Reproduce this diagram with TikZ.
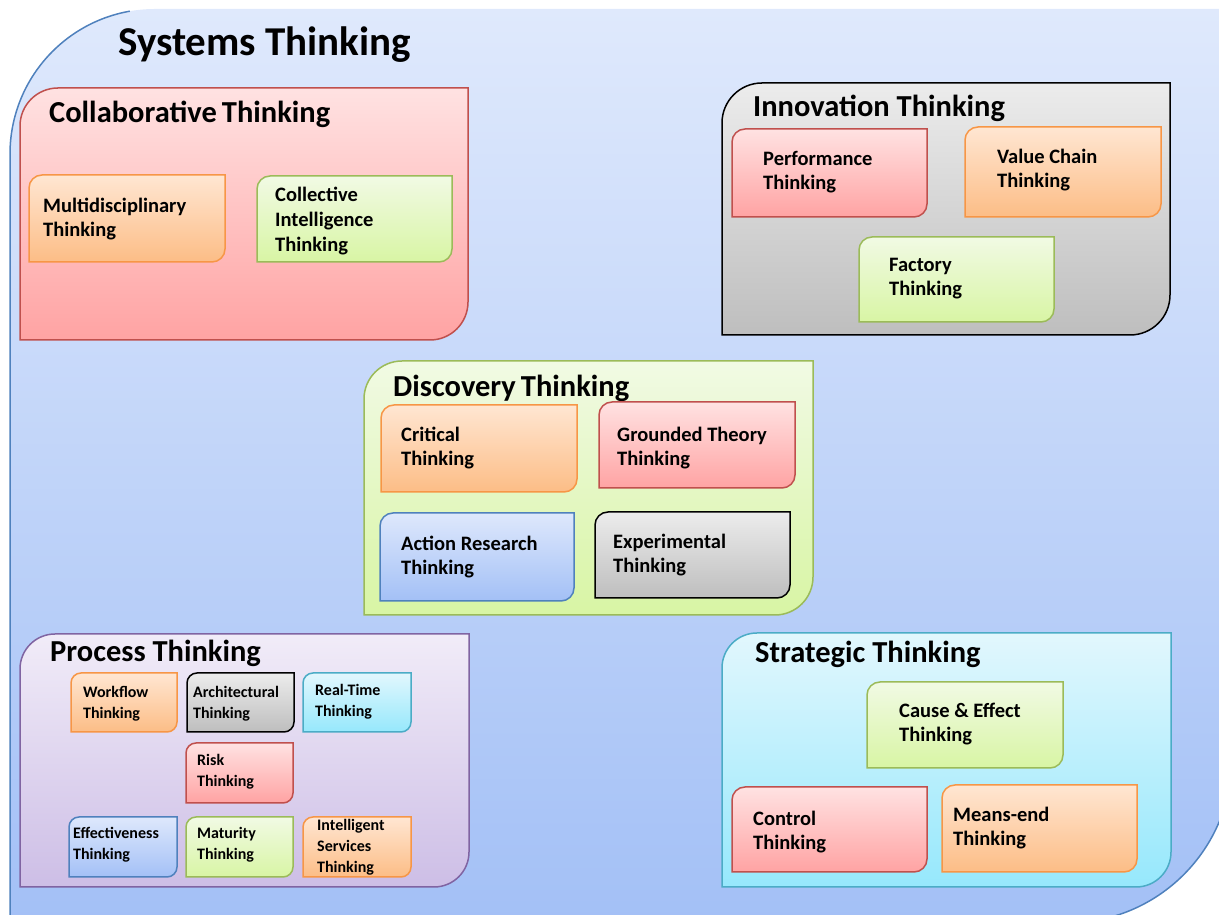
\documentclass[tikz,border=0pt]{standalone}
\usepackage{fontspec}
\setmainfont{Carlito}
\usepackage{tikz}
\usetikzlibrary{calc}
\tikzset{>=stealth}

\definecolor{outtop}{RGB}{223,233,252}
\definecolor{outbot}{RGB}{163,192,246}
\definecolor{outline}{RGB}{79,129,189}
\definecolor{redtop}{RGB}{255,226,226}
\definecolor{redbot}{RGB}{255,163,163}
\definecolor{redline}{RGB}{192,80,77}
\definecolor{orgtop}{RGB}{255,230,210}
\definecolor{orgbot}{RGB}{252,189,134}
\definecolor{orgline}{RGB}{247,150,70}
\definecolor{grntop}{RGB}{241,250,228}
\definecolor{grnbot}{RGB}{216,245,164}
\definecolor{grnline}{RGB}{155,187,89}
\definecolor{grytop}{RGB}{236,236,236}
\definecolor{grybot}{RGB}{190,190,190}
\definecolor{blutop}{RGB}{222,232,252}
\definecolor{blubot}{RGB}{163,192,246}
\definecolor{cyntop}{RGB}{226,247,253}
\definecolor{cynbot}{RGB}{150,232,252}
\definecolor{cynline}{RGB}{75,172,198}
\definecolor{prptop}{RGB}{241,236,248}
\definecolor{prpbot}{RGB}{205,190,230}
\definecolor{prpline}{RGB}{128,100,162}

\tikzset{
  redbox/.style={draw=redline, line width=1.5pt, top color=redtop, bottom color=redbot},
  orangebox/.style={draw=orgline, line width=1.5pt, top color=orgtop, bottom color=orgbot},
  greenbox/.style={draw=grnline, line width=1.5pt, top color=grntop, bottom color=grnbot},
  graybox/.style={draw=black, line width=1.5pt, top color=grytop, bottom color=grybot},
  bluebox/.style={draw=outline, line width=1.5pt, top color=blutop, bottom color=blubot},
  cyanbox/.style={draw=cynline, line width=1.5pt, top color=cyntop, bottom color=cynbot},
  purplebox/.style={draw=prpline, line width=1.5pt, top color=prptop, bottom color=prpbot},
  maintitle/.style={font=\bfseries\fontsize{41}{48}\selectfont, anchor=base west, inner sep=0pt},
  grouptitle/.style={font=\bfseries\fontsize{30.5}{36}\selectfont, anchor=base west, inner sep=0pt},
  thinktext/.style={font=\bfseries\fontsize{20.5}{24}\selectfont, align=left, anchor=north west, inner sep=0pt},
  smalltext/.style={thinktext, font=\bfseries\fontsize{16}{21}\selectfont}
}

% box with rounded top left and bottom right corners: [radius]{x1}{y1}{x2}{y2}{style}, y counted from the top
\newcommand{\diagbox}[6][13]{%
  \path[#6] (#2,915-#5) -- (#2,915-#3-#1)
    arc[start angle=180,end angle=90,radius=#1] -- (#4,915-#3)
    -- (#4,915-#5+#1) arc[start angle=0,end angle=-90,radius=#1] -- cycle;}

\begin{document}
\begin{tikzpicture}[x=1pt,y=1pt]
  \useasboundingbox (0,0) rectangle (1219,915);

  % systems thinking
  \path[top color=outtop, bottom color=outbot] (10,-8) -- (10,915-9-145)
    arc[start angle=180,end angle=90,radius=145] -- (1232,906) -- (1232,157)
    arc[start angle=0,end angle=-90,radius=165] -- cycle;
  \draw[outline, line width=1.5pt] (10,-8) -- (10,915-9-145) arc[start angle=180,end angle=100,radius=145];
  \draw[outline, line width=1.5pt] (1232,157) arc[start angle=0,end angle=-90,radius=165];
  \node[maintitle] (systems) at (118,915-56) {Systems Thinking};

  % collaborative
  \diagbox[38]{20}{88}{468}{340}{redbox}
  \node[grouptitle] (collab) at (49,915-123) {Collaborative\,Thinking};
  \diagbox{29}{175}{225}{262}{orangebox}
  \node[thinktext] (multi) at (43,915-198) {Multidisciplinary\\Thinking};
  \diagbox{257}{176}{452}{262}{greenbox}
  \node[thinktext, font=\bfseries\fontsize{20.5}{25}\selectfont] (collective) at (275,915-187) {Collective\\Intelligence\\Thinking};

  % innovation
  \diagbox[40]{722}{83}{1170}{335}{graybox}
  \node[grouptitle] (innov) at (753,915-117) {Innovation Thinking};
  \diagbox{732}{129}{927}{217}{redbox}
  \node[thinktext] (perf) at (763,915-151) {Performance\\Thinking};
  \diagbox{965}{127}{1161}{217}{orangebox}
  \node[thinktext] (valuechain) at (997,915-149) {Value Chain\\Thinking};
  \diagbox{859}{237}{1054}{322}{greenbox}
  \node[thinktext] (factory) at (889,915-258) {Factory\\Thinking};

  % discovery
  \diagbox[38]{364}{361}{813}{615}{greenbox}
  \node[grouptitle] (discov) at (393,915-397) {Discovery\,Thinking};
  \diagbox{381}{405}{577}{492}{orangebox}
  \node[thinktext] (critical) at (401,915-427) {Critical\\Thinking};
  \diagbox{599}{402}{795}{488}{redbox}
  \node[thinktext] (grounded) at (617,915-427) {Grounded Theory\\Thinking};
  \diagbox{380}{513}{574}{601}{bluebox}
  \node[thinktext] (action) at (401,915-536) {Action Research\\Thinking};
  \diagbox{595}{512}{790}{598}{graybox}
  \node[thinktext] (experim) at (613,915-534) {Experimental\\Thinking};

  % process
  \diagbox[35]{20}{634}{469}{887}{purplebox}
  \node[grouptitle] (process) at (50,915-662) {Process Thinking};
  \diagbox[10]{71}{673}{177}{732}{orangebox}
  \node[smalltext] (workflow) at (83,915-686) {Workflow\\Thinking};
  \diagbox[10]{187}{673}{294}{732}{graybox}
  \node[smalltext] (archi) at (193,915-686) {Architectural\\Thinking};
  \diagbox[10]{303}{673}{411}{732}{cyanbox}
  \node[smalltext] (realtime) at (315,915-684) {Real-Time\\Thinking};
  \diagbox[10]{186}{743}{293}{803}{redbox}
  \node[smalltext] (risk) at (197,915-754) {Risk\\Thinking};
  \diagbox[10]{69}{817}{177}{877}{bluebox}
  \node[smalltext] (effect) at (73,915-827) {Effectiveness\\Thinking};
  \diagbox[10]{186}{817}{293}{877}{greenbox}
  \node[smalltext] (maturity) at (197,915-827) {Maturity\\Thinking};
  \diagbox[10]{303}{817}{411}{877}{orangebox}
  \node[smalltext] (intserv) at (317,915-819) {Intelligent\\Services\\Thinking};

  % strategic
  \diagbox[35]{722}{633}{1171}{887}{cyanbox}
  \node[grouptitle] (strategic) at (755,915-663) {Strategic Thinking};
  \diagbox{867}{682}{1063}{768}{greenbox}
  \node[thinktext] (cause) at (899,915-703) {Cause \& Effect\\Thinking};
  \diagbox{732}{787}{927}{872}{redbox}
  \node[thinktext] (control) at (753,915-811) {Control\\Thinking};
  \diagbox{942}{785}{1137}{872}{orangebox}
  \node[thinktext] (meansend) at (953,915-807) {Means-end\\Thinking};
\end{tikzpicture}
\end{document}
